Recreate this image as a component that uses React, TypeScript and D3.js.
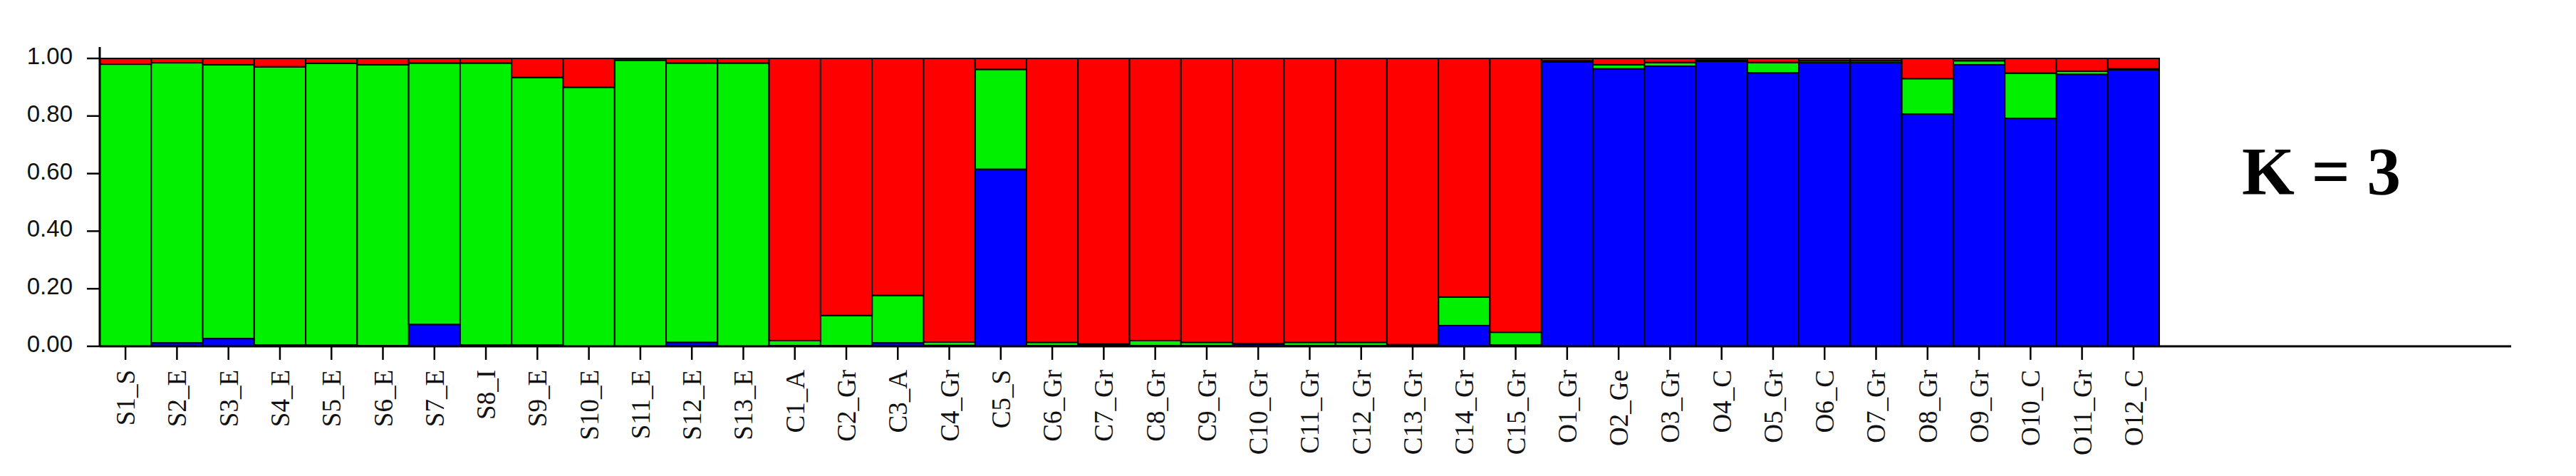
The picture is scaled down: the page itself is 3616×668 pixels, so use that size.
import React from "react";
import * as d3 from "d3";

const samples = [
  "S1_S","S2_E","S3_E","S4_E","S5_E","S6_E","S7_E","S8_I","S9_E","S10_E","S11_E","S12_E","S13_E",
  "C1_A","C2_Gr","C3_A","C4_Gr","C5_S","C6_Gr","C7_Gr","C8_Gr","C9_Gr","C10_Gr","C11_Gr","C12_Gr","C13_Gr","C14_Gr","C15_Gr",
  "O1_Gr","O2_Ge","O3_Gr","O4_C","O5_Gr","O6_C","O7_Gr","O8_Gr","O9_Gr","O10_C","O11_Gr","O12_C",
];

const blue = [
  0, 0.012, 0.027, 0.005, 0.005, 0.002, 0.076, 0.005, 0.005, 0, 0, 0.014, 0,
  0.002, 0.002, 0.012, 0.003, 0.615, 0.002, 0.003, 0.002, 0.002, 0.007, 0.002, 0.002, 0.004, 0.072, 0.005,
  0.988, 0.964, 0.973, 0.99, 0.95, 0.986, 0.986, 0.807, 0.978, 0.792, 0.945, 0.961,
];
const green = [
  0.98, 0.973, 0.951, 0.966, 0.978, 0.976, 0.908, 0.979, 0.929, 0.9, 0.994, 0.97, 0.984,
  0.018, 0.105, 0.165, 0.012, 0.347, 0.012, 0.005, 0.018, 0.012, 0.003, 0.012, 0.012, 0.002, 0.099, 0.044,
  0.004, 0.014, 0.013, 0.004, 0.036, 0.006, 0.006, 0.123, 0.014, 0.157, 0.011, 0.003,
];
const red = [
  0.02, 0.015, 0.022, 0.029, 0.017, 0.022, 0.016, 0.016, 0.066, 0.1, 0.006, 0.016, 0.016,
  0.98, 0.893, 0.823, 0.985, 0.038, 0.986, 0.992, 0.98, 0.986, 0.99, 0.986, 0.986, 0.994, 0.829, 0.951,
  0.008, 0.022, 0.014, 0.006, 0.014, 0.008, 0.008, 0.07, 0.008, 0.051, 0.044, 0.036,
];

const clusterKeys = ["blue", "green", "red"];
const clusterColors = ["#0000ff", "#00f000", "#ff0000"];
const yTicks = [0, 0.2, 0.4, 0.6, 0.8, 1.0];
const title = "K = 3";

export default function App() {
  const W = 3616, H = 668;
  const x0 = 140, x1 = 3031, y0 = 486, y1 = 82;
  const x = d3.scaleBand<string>().domain(samples).range([x0, x1]).padding(0);
  const y = d3.scaleLinear().domain([0, 1]).range([y0, y1]);
  const color = d3.scaleOrdinal<string, string>().domain(clusterKeys).range(clusterColors);

  const rows = samples.map((s, i) => ({ sample: s, blue: blue[i], green: green[i], red: red[i] }));
  const series = d3.stack<any>().keys(clusterKeys)(rows);

  return (
    <svg width={W} height={H} style={{ position: "absolute", left: 0, top: 0, background: "#fff" }}>
      <rect x={0} y={0} width={W} height={H} fill="#fff" />
      {series.map((ser) => (
        <g key={ser.key}>
          {ser.map((d, i) => {
            const h = y(d[0]) - y(d[1]);
            if (h <= 0) return null;
            return (
              <rect
                key={i}
                x={x(samples[i])!}
                y={y(d[1])}
                width={x.bandwidth()}
                height={h}
                fill={color(ser.key)}
                stroke="#000"
                strokeWidth={2}
              />
            );
          })}
        </g>
      ))}
      {/* y axis */}
      <line x1={x0} x2={x0} y1={66} y2={y0} stroke="#000" strokeWidth={3} />
      {yTicks.map((t) => (
        <g key={t}>
          <line x1={x0 - 18} x2={x0} y1={y(t)} y2={y(t)} stroke="#000" strokeWidth={2.5} />
          <text
            x={102}
            y={y(t) + 8}
            textAnchor="end"
            fontFamily="'Liberation Sans', Arial, sans-serif"
            fontSize={33}
            fill="#111"
          >
            {t.toFixed(2)}
          </text>
        </g>
      ))}
      {/* x axis */}
      <line x1={x0} x2={3525} y1={y0} y2={y0} stroke="#000" strokeWidth={3} />
      {samples.map((s) => {
        const cx = x(s)! + x.bandwidth() / 2;
        return (
          <g key={s}>
            <line x1={cx} x2={cx} y1={y0} y2={y0 + 19} stroke="#000" strokeWidth={2.5} />
            <text
              transform={`translate(${cx + 13},${519}) rotate(-90)`}
              textAnchor="end"
              fontFamily="'Liberation Serif', 'Times New Roman', serif"
              fontSize={37}
              fill="#111"
            >
              {s}
            </text>
          </g>
        );
      })}
      <text
        x={3147}
        y={273}
        fontFamily="'Liberation Serif', 'Times New Roman', serif"
        fontWeight="bold"
        fontSize={95}
        fill="#000"
      >
        {title}
      </text>
    </svg>
  );
}
